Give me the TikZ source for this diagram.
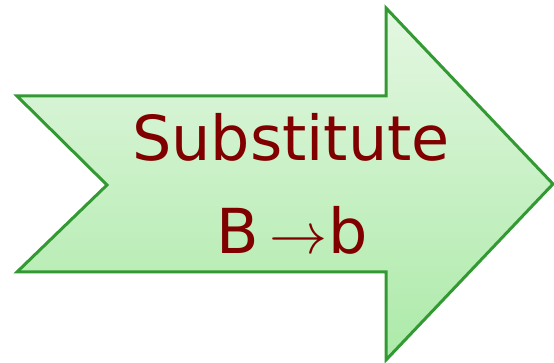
\documentclass[tikz,border=0pt]{standalone}
\usepackage{fontspec}
\usepackage{graphicx}
\setmainfont{DejaVu Sans}
\begin{document}
\begin{tikzpicture}[x=1pt,y=-1pt,
  arrowshape/.style={draw=arrowgreen,line width=3pt,line join=miter,top color=topgreen,bottom color=botgreen},
  label/.style={text=darkred,font=\fontsize{62}{70}\selectfont,inner sep=0pt,anchor=base}]
\definecolor{arrowgreen}{RGB}{51,153,51}
\definecolor{topgreen}{RGB}{228,247,226}
\definecolor{botgreen}{RGB}{172,234,168}
\definecolor{darkred}{RGB}{128,0,0}
\useasboundingbox (0,0) rectangle (554,363);
\coordinate (p1) at (17,96);
\coordinate (p2) at (386,96);
\coordinate (p3) at (386,8);
\coordinate (p4) at (553,184);
\coordinate (p5) at (386,360);
\coordinate (p6) at (386,272);
\coordinate (p7) at (17,272);
\coordinate (p8) at (107,185);
\shade[arrowshape] (p1) -- (p2) -- (p3) -- (p4) -- (p5) -- (p6) -- (p7) -- (p8) -- cycle;
\node[label] (t1) at (291,161) {Substitute};
\node[label] (t2) at (292,254) {B\hspace{10pt}\resizebox{58pt}{!}{$\rightarrow$}\hspace{1pt}b};
\end{tikzpicture}
\end{document}
